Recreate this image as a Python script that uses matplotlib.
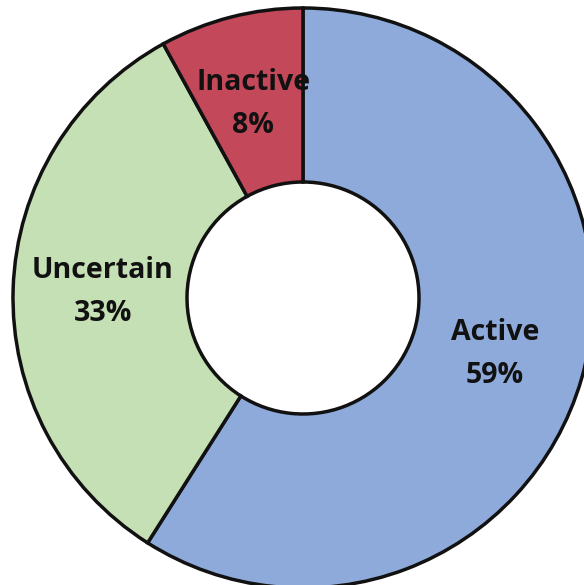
import matplotlib.pyplot as plt

# Share of items by status
labels = ['Active', 'Uncertain', 'Inactive']
shares = [59, 33, 8]
colors = ['#8EAADB', '#C5E0B4', '#C3485A']

fig = plt.figure(figsize=(5.84, 5.85), dpi=100)
ax = fig.add_axes([0, 0, 1, 1])

texts = [f'{name}\n{pct}%' for name, pct in zip(labels, shares)]
ax.pie(shares, labels=texts, colors=colors, startangle=90, counterclock=False,
       labeldistance=0.69, radius=1.0,
       wedgeprops=dict(width=0.6, edgecolor='#111111', linewidth=2.5),
       textprops=dict(fontsize=20.5, fontweight='bold', family='Open Sans',
                      ha='center', va='center', linespacing=1.65, color='#111111'))

# center of donut sits at (303, 298) px, radius 290 px
ax.set_xlim(-303 / 290, (584 - 303) / 290)
ax.set_ylim(-(585 - 298) / 290, 298 / 290)
ax.set_aspect('auto')
ax.axis('off')

fig.savefig('out.png', dpi=100)
